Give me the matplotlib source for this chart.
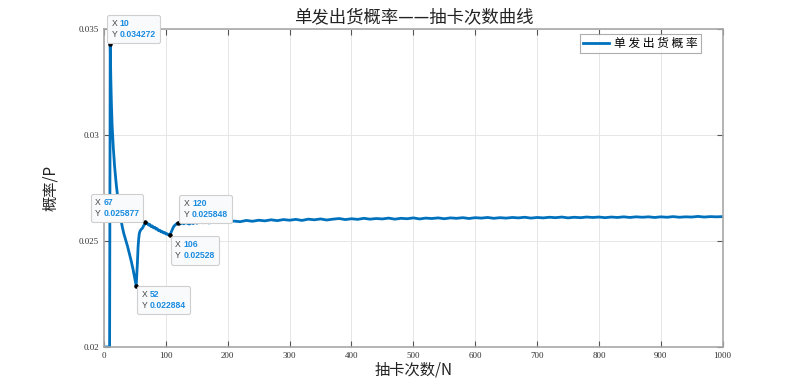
import matplotlib
matplotlib.use("Agg")
import matplotlib.pyplot as plt
from matplotlib.offsetbox import TextArea, HPacker, VPacker, AnnotationBbox

# 抽卡次数 / 单发出货概率
draws = [1, 9, 10, 11, 12, 13, 14, 15, 16, 17, 18, 19, 20, 22, 24, 26, 28, 30, 32, 35, 38, 41, 44, 47, 50, 52,
         53, 54, 55, 56, 57, 58, 60, 62, 64, 66, 67, 68, 70, 72, 74, 76, 78, 80, 82, 84, 86, 88, 90, 92, 94, 96, 98,
         100, 102, 104, 106, 108, 110, 112, 114, 116, 118, 120, 123, 126, 129, 132, 135, 138, 141, 144, 147, 150,
         155, 160, 165, 170, 175, 180, 185, 190, 195, 200,
         210, 220, 230, 240, 250, 260, 270, 280, 290, 300, 310, 320, 330, 340, 350, 360, 370, 380, 390, 400,
         410, 420, 430, 440, 450, 460, 470, 480, 490, 500, 510, 520, 530, 540, 550, 560, 570, 580, 590, 600,
         610, 620, 630, 640, 650, 660, 670, 680, 690, 700, 710, 720, 730, 740, 750, 760, 770, 780, 790, 800,
         810, 820, 830, 840, 850, 860, 870, 880, 890, 900, 910, 920, 930, 940, 950, 960, 970, 980, 990, 1000]
prob = [0.02, 0.02, 0.034272, 0.03260, 0.03140, 0.03050, 0.02990, 0.02940, 0.02895, 0.02855, 0.02820, 0.02790,
        0.02760, 0.02710, 0.02665, 0.02625, 0.02590, 0.02560, 0.02535, 0.02505, 0.02475, 0.02440, 0.02405,
        0.02365, 0.02320, 0.022884,
        0.02340, 0.02400, 0.02470, 0.02510, 0.02535, 0.02545, 0.02555, 0.02560, 0.02572, 0.02580, 0.025877,
        0.02582, 0.02584, 0.02575, 0.02578, 0.02568, 0.02571, 0.02562, 0.02565, 0.02556, 0.02558, 0.02549,
        0.02551, 0.02543, 0.02545, 0.02538, 0.02540, 0.02533, 0.02534, 0.02529, 0.02528,
        0.02538, 0.02552, 0.02565, 0.02573, 0.02578, 0.02583, 0.025848, 0.02580, 0.02586, 0.02581, 0.02588,
        0.02583, 0.02580, 0.02587, 0.02582, 0.02589, 0.02584,
        0.02590, 0.02586, 0.02591, 0.02585, 0.02592, 0.02588, 0.02594, 0.02589, 0.02593, 0.02590,
        0.02594, 0.02591, 0.02597, 0.02593, 0.02598, 0.02595, 0.02600, 0.02596, 0.02601, 0.02598,
        0.02602, 0.02597, 0.02603, 0.02600, 0.02604, 0.02599, 0.02603, 0.02606, 0.02601, 0.02605,
        0.02602, 0.02607, 0.02603, 0.02606, 0.02604, 0.02608, 0.02603, 0.02607, 0.02605, 0.02609,
        0.02604, 0.02608, 0.02606, 0.02609, 0.02605, 0.02609, 0.02607, 0.02610, 0.02606, 0.02610,
        0.02608, 0.02611, 0.02607, 0.02610, 0.02608, 0.02611, 0.02609, 0.02612, 0.02608, 0.02611,
        0.02609, 0.02612, 0.02610, 0.02613, 0.02609, 0.02612, 0.02610, 0.02613, 0.02611, 0.02613,
        0.02610, 0.02613, 0.02611, 0.02614, 0.02611, 0.02614, 0.02612, 0.02614, 0.02611, 0.02614,
        0.02612, 0.02615, 0.02612, 0.02614, 0.02613, 0.02616, 0.02613, 0.02615, 0.02614, 0.02615]

# data tips: x, y, value text
tip_x = [10, 67, 52, 106, 120]
tip_y = [0.034272, 0.025877, 0.022884, 0.02528, 0.025848]
tip_y_text = ["0.034272", "0.025877", "0.022884", "0.02528", "0.025848"]
# where each tip box sits relative to its point (pixels, content corner) and which corner
tip_offset = [(1.2, 5.2), (-6.2, 4.2), (5.2, -4.2), (5.2, -5.2), (5.2, 4.2)]
tip_align = [(0, 0), (1, 0), (0, 1), (0, 1), (0, 0)]

cjk = ["Noto Sans CJK SC", "DejaVu Sans"]
line_color = "#0072BD"

fig = plt.figure(figsize=(7.99, 3.90), dpi=100)
ax = fig.add_axes([0.1302, 0.1103, 0.7743, 0.8153])

ax.plot(draws, prob, color=line_color, linewidth=2.0, label="单 发 出 货 概 率")
ax.set_xlim(0, 1000)
ax.set_ylim(0.02, 0.035)
ax.set_xticks(range(0, 1001, 100))
ax.set_yticks([0.02, 0.025, 0.03, 0.035])
ax.set_yticklabels(["0.02", "0.025", "0.03", "0.035"])

ax.grid(True, color="#e6e6e6", linewidth=0.7)
ax.tick_params(direction="in", top=True, right=True, length=4, width=0.8,
               color="#555555", labelsize=6.5, labelcolor="#333333")
for lab in ax.get_xticklabels() + ax.get_yticklabels():
    lab.set_fontfamily("Liberation Serif")
for s in ax.spines.values():
    s.set_color("#a8a8a8")
    s.set_linewidth(1.2)

ax.set_title("单发出货概率——抽卡次数曲线", fontsize=12.5, family=cjk, color="#222222", pad=5)
ax.set_xlabel("抽卡次数/N", fontsize=11, family=cjk, color="#222222", labelpad=1)
ax.set_ylabel("概率/P", fontsize=11, family=cjk, color="#222222", labelpad=14)

leg = ax.legend(loc="upper right", bbox_to_anchor=(0.965, 0.984), prop={"family": cjk, "size": 8.5},
                fancybox=False, handlelength=2.2, borderpad=0.25, handletextpad=0.5, borderaxespad=0)
leg.get_frame().set_edgecolor("#999999")
leg.get_frame().set_linewidth(0.8)

# datatips
ax.scatter(tip_x, tip_y, s=5, color="black", zorder=5)
for x, y, yt, off, al in zip(tip_x, tip_y, tip_y_text, tip_offset, tip_align):
    tp = dict(fontsize=6.2, family="Liberation Sans")
    row1 = HPacker(children=[TextArea("X", textprops=dict(color="#444444", **tp)),
                             TextArea(str(x), textprops=dict(color="#1a8ce0", fontweight="bold", **tp))],
                   sep=2, pad=0)
    row2 = HPacker(children=[TextArea("Y", textprops=dict(color="#444444", **tp)),
                             TextArea(yt, textprops=dict(color="#1a8ce0", fontweight="bold", **tp))],
                   sep=2, pad=0)
    box = VPacker(children=[row1, row2], sep=1.5, pad=0, align="left")
    ab = AnnotationBbox(box, (x, y), xybox=off, xycoords="data", boxcoords="offset pixels",
                        box_alignment=al, pad=0.3, frameon=True, zorder=6,
                        bboxprops=dict(boxstyle="round,pad=0.3,rounding_size=0.15",
                                       facecolor="#f9fafc", edgecolor="#cfcfcf", linewidth=0.8))
    ax.add_artist(ab)

fig.savefig("out.png", dpi=100)
